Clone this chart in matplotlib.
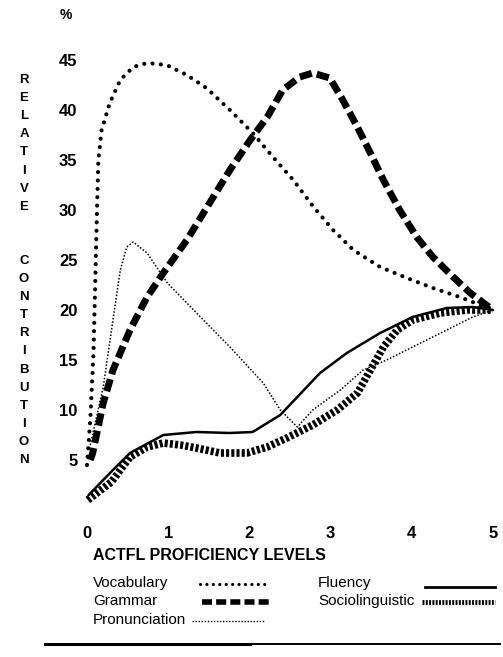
import matplotlib.pyplot as plt

plt.rcParams['font.family'] = ['Liberation Sans', 'DejaVu Sans']

# values (x = ACTFL level, y = relative contribution %)
vocab_x = [0.0, 0.04, 0.08, 0.10, 0.12, 0.14, 0.18, 0.28, 0.41, 0.57, 0.74, 0.98,
           1.23, 1.47, 1.76, 2.04, 2.29, 2.54, 2.79, 3.03, 3.28, 3.61, 3.94, 4.26,
           4.59, 5.0]
vocab_y = [4.5, 9.0, 15.7, 22.3, 29.0, 35.0, 38.0, 40.7, 43.0, 44.3, 44.7, 44.5,
           43.5, 42.2, 40.0, 37.7, 35.3, 33.0, 30.3, 28.0, 26.0, 24.3, 23.2, 22.2,
           21.3, 20.0]

grammar_x = [0.04, 0.07, 0.20, 0.32, 0.53, 0.74, 0.94, 1.23, 1.51, 1.76, 2.01, 2.22,
             2.41, 2.62, 2.78, 2.99, 3.15, 3.33, 3.49, 3.65, 3.85, 4.06, 4.26, 4.51,
             4.72, 5.0]
grammar_y = [5.0, 5.7, 10.7, 14.0, 18.0, 21.3, 23.7, 27.0, 30.7, 34.0, 37.0, 39.3,
             42.0, 43.3, 43.7, 43.2, 41.0, 38.3, 35.7, 33.0, 30.0, 27.3, 25.3, 23.3,
             21.7, 20.0]

pron_x = [0.04, 0.20, 0.32, 0.41, 0.49, 0.57, 0.74, 0.99, 1.35, 1.76, 2.17, 2.38,
          2.59, 2.78, 3.12, 3.40, 3.69, 4.01, 4.43, 4.75, 5.0]
pron_y = [6.5, 12.3, 19.0, 24.0, 26.3, 26.8, 25.7, 22.7, 19.7, 16.3, 12.7, 10.0,
          8.3, 10.0, 12.0, 14.0, 15.0, 16.3, 18.0, 19.3, 20.0]

fluency_x = [0.02, 0.32, 0.53, 0.94, 1.35, 1.76, 2.04, 2.38, 2.59, 2.87, 3.20, 3.61,
             4.01, 4.43, 4.75, 5.0]
fluency_y = [1.5, 4.0, 5.7, 7.5, 7.8, 7.7, 7.8, 9.5, 11.3, 13.7, 15.7, 17.7,
             19.3, 20.2, 20.3, 20.0]

socio_x = [0.01, 0.30, 0.53, 0.74, 0.94, 1.15, 1.35, 1.64, 1.97, 2.22, 2.46, 2.78,
           3.08, 3.33, 3.49, 3.65, 3.82, 4.01, 4.35, 4.68, 5.0]
socio_y = [1.0, 2.8, 5.3, 6.3, 6.7, 6.5, 6.2, 5.7, 5.7, 6.3, 7.2, 8.5,
           10.0, 11.7, 14.0, 16.3, 18.0, 19.0, 19.7, 20.0, 20.0]

x_ticks = [0, 1, 2, 3, 4, 5]
y_ticks = [5, 10, 15, 20, 25, 30, 35, 40, 45]
names = ['Vocabulary', 'Grammar', 'Pronunciation', 'Fluency', 'Sociolinguistic']

# line looks of the scan: big dots, heavy dashes, fine dots, solid, hatched band
styles = {
    'Vocabulary': dict(lw=3.0, ls=(0, (0.01, 2.0)), dash_capstyle='round'),
    'Grammar': dict(lw=5.0, ls=(0, (1.8, 0.75))),
    'Pronunciation': dict(lw=1.1, ls=(0, (1.0, 1.2))),
    'Fluency': dict(lw=1.8, ls='-', solid_capstyle='round'),
    'Sociolinguistic': dict(lw=5.5, ls=(0, (0.4, 0.28))),
}
legend_lw = {'Vocabulary': 2.3, 'Grammar': 4.0, 'Pronunciation': 1.0,
             'Fluency': 2.0, 'Sociolinguistic': 3.5}

W, H = 503, 657
fig = plt.figure(figsize=(W / 100, H / 100), dpi=100)

# main axes placed so that 0..5 -> px 87..493 and 45 -> px 60, 5 -> px 460
x0, x1 = -0.1, 5.1
y0, y1 = -1, 50
px_l, px_r = 87 + 81.2 * x0, 87 + 81.2 * x1
py_b, py_t = 60 + (45 - y0) * 10, 60 + (45 - y1) * 10
ax = fig.add_axes([px_l / W, 1 - py_b / H, (px_r - px_l) / W, (py_b - py_t) / H])
ax.set_xlim(x0, x1)
ax.set_ylim(y0, y1)

series = {
    'Vocabulary': (vocab_x, vocab_y),
    'Grammar': (grammar_x, grammar_y),
    'Pronunciation': (pron_x, pron_y),
    'Fluency': (fluency_x, fluency_y),
    'Sociolinguistic': (socio_x, socio_y),
}
for name in names:
    xs, ys = series[name]
    st = styles[name]
    ax.plot(xs, ys, color='black', lw=st['lw'], linestyle=st['ls'],
            dash_capstyle=st.get('dash_capstyle', 'butt'),
            solid_capstyle=st.get('solid_capstyle', 'butt'))

for s in ax.spines.values():
    s.set_visible(False)
ax.set_xticks(x_ticks)
ax.set_yticks(y_ticks)
ax.tick_params(length=0, labelsize=12)
ax.tick_params(axis='x', pad=4)
ax.tick_params(axis='y', pad=1)
for lab in ax.get_xticklabels() + ax.get_yticklabels():
    lab.set_fontweight('bold')
ax.patch.set_alpha(0)

# overlay in pixel coordinates for the loose text, legend and rule
lay = fig.add_axes([0, 0, 1, 1])
lay.set_xlim(0, W)
lay.set_ylim(H, 0)
lay.axis('off')
lay.patch.set_alpha(0)

lay.text(66, 15, '%', ha='center', va='center', fontsize=10, fontweight='bold')

letters = list('RELATIVE') + ['', ''] + list('CONTRIBUTION')
for i, ch in enumerate(letters):
    lay.text(24, 80 + i * 18.1, ch, ha='center', va='center',
             fontsize=9.5, fontweight='bold')

lay.text(93, 556, 'ACTFL PROFICIENCY LEVELS', ha='left', va='center',
         fontsize=11.5, fontweight='bold')

legend_pos = {
    'Vocabulary': (93, 583, 200, 270),
    'Grammar': (93, 601, 202, 270),
    'Pronunciation': (93, 620, 192, 265),
    'Fluency': (318, 583, 425, 495),
    'Sociolinguistic': (318, 601, 422, 495),
}
for name in names:
    tx, ty, lx0, lx1 = legend_pos[name]
    lay.text(tx, ty, name, ha='left', va='center', fontsize=11)
    st = styles[name]
    ly = ty + 4 if name == 'Fluency' else ty + 1
    lay.plot([lx0, lx1], [ly, ly], color='black', lw=legend_lw[name],
             linestyle=st['ls'], dash_capstyle=st.get('dash_capstyle', 'butt'))

lay.plot([45, 250], [644, 644], color='black', lw=2.2)
lay.plot([250, 500], [644, 644], color='black', lw=1.4)

fig.savefig('out.png', dpi=100, facecolor='white')
